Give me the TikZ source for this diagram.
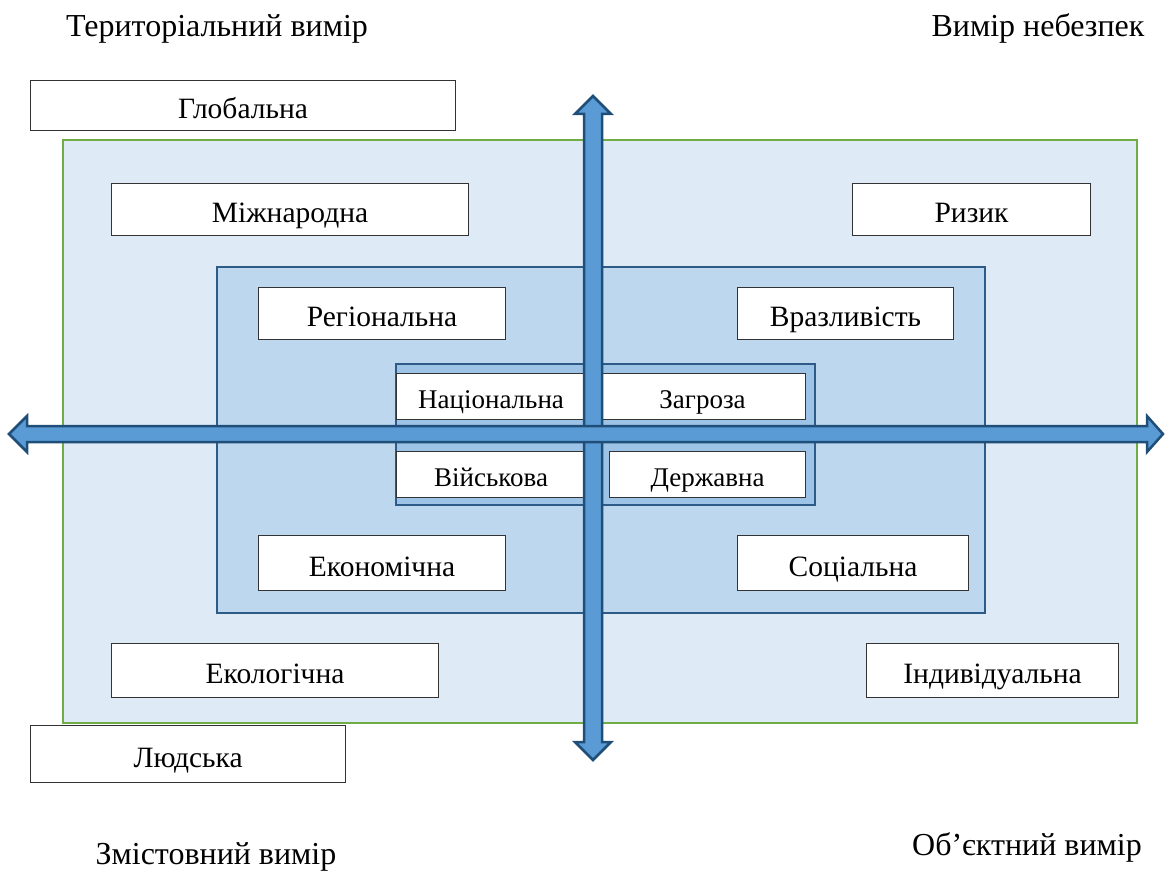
\documentclass[tikz,border=0pt]{standalone}
\usepackage{fontspec}
\setmainfont{Liberation Serif}
\definecolor{outerfill}{HTML}{DEEAF6}
\definecolor{outerline}{HTML}{70AD47}
\definecolor{midfill}{HTML}{BDD7EE}
\definecolor{innerfill}{HTML}{9DC3E6}
\definecolor{frameline}{HTML}{2E5A88}
\definecolor{arrowfill}{HTML}{5B9BD5}
\definecolor{arrowline}{HTML}{1F4E79}
\tikzset{
  txt/.style={font=\fontsize{32}{38}\selectfont, inner sep=0pt, anchor=base},
  wbox/.style={draw=black!80, line width=1.1pt, fill=white, anchor=north west,
    inner sep=0pt, text height=26pt, text depth=0pt,
    font=\fontsize{29.5}{35}\selectfont},
  core/.style={text height=24pt, font=\fontsize{27}{32}\selectfont},
  zone/.style={line width=2pt},
  axis/.style={draw=arrowline, fill=arrowfill, line width=2.5pt, line join=miter},
}
\newcommand\labelbox[7][]{%
  \node[wbox, #1, minimum width=#5, minimum height=#6] (#2) at (#3,#4) {#7};}
\begin{document}
\begin{tikzpicture}[x=1pt, y=-1pt]
  \useasboundingbox (0,0) rectangle (1170,872);

  % axis captions
  \node[txt] (terr) at (217,37) {Територіальний вимір};
  \node[txt] (haz)  at (1038,37) {Вимір небезпек};
  \node[txt] (cont) at (216,864) {Змістовний вимір};
  \node[txt] (obj)  at (1027,855) {Об’єктний вимір};

  % nested zones
  \draw[zone, draw=outerline, fill=outerfill] (63,140) rectangle (1137,723);
  \draw[zone, draw=frameline, fill=midfill] (217,267) rectangle (985,613);
  \draw[zone, draw=frameline, fill=innerfill] (396,364) rectangle (815,505);

  % level boxes
  \labelbox{glob}{30}{80}{425}{50}{Глобальна}
  \labelbox{intl}{111}{183}{357}{52}{Міжнародна}
  \labelbox{risk}{852}{183}{238}{52}{Ризик}
  \labelbox{reg}{258}{287}{247}{52}{Регіональна}
  \labelbox{vuln}{737}{287}{216}{52}{Вразливість}
  \labelbox[core]{nat}{396}{373}{189}{46}{Національна}
  \labelbox[core]{thr}{599}{373}{206}{46}{Загроза}
  \labelbox[core]{mil}{396}{451}{189}{46}{Військова}
  \labelbox[core]{state}{609}{451}{196}{46}{Державна}
  \labelbox{econ}{258}{535}{247}{55}{Економічна}
  \labelbox{soc}{737}{535}{231}{55}{Соціальна}
  \labelbox{eco}{111}{643}{327}{54}{Екологічна}
  \labelbox{ind}{866}{643}{252}{54}{Індивідуальна}
  \labelbox{hum}{30}{725}{315}{57}{Людська}

  % vertical axis
  \draw[axis] (593,96) -- (611,114) -- (602,114) -- (602,742) -- (611,742)
    -- (593,760) -- (575,742) -- (584,742) -- (584,114) -- (575,114) -- cycle;
  % horizontal axis
  \draw[axis] (9,434) -- (27,416) -- (27,426) -- (1147,426) -- (1147,416)
    -- (1163,434) -- (1147,452) -- (1147,442) -- (27,442) -- (27,452) -- cycle;
\end{tikzpicture}
\end{document}
